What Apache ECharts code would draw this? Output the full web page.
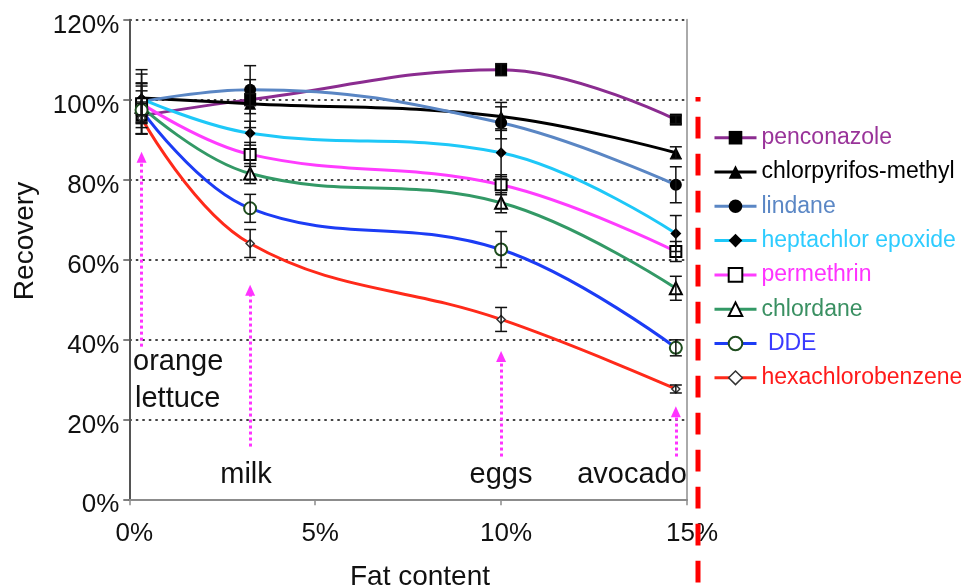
<!DOCTYPE html>
<html>
<head>
<meta charset="utf-8">
<script src="https://cdn.jsdelivr.net/npm/echarts@6/dist/echarts.min.js"></script>
<style>
html,body{margin:0;padding:0;background:#fff;}
#c{width:961px;height:588px;}
</style>
</head>
<body>
<div id="c"></div>
<script>
// ---- data ----
const fatContent = [0.33, 3.25, 10, 14.7];           // % fat: orange/lettuce, milk, eggs, avocado
const compounds = ['penconazole','chlorpyrifos-methyl','lindane','heptachlor epoxide','permethrin','chlordane','DDE','hexachlorobenzene'];
const penconazole        = [96.0, 100.0, 107.5, 95.0];
const chlorpyrifosMethyl = [100.4, 99.0, 95.8, 86.7];
const lindane            = [99.5, 102.5, 94.2, 78.7];
const heptachlorEpoxide  = [100.2, 91.6, 86.7, 66.5];
const permethrin         = [99.0, 86.3, 78.7, 62.0];
const chlordane          = [98.2, 81.5, 74.2, 52.8];
const dde                = [97.4, 72.8, 62.5, 37.9];
const hexachlorobenzene  = [95.4, 64.0, 45.0, 27.6];
// error (±) per point
const errPenconazole  = [3, 1.5, 1.5, 1];
const errChlorpyrifos = [6, 6, 3.5, 1.5];
const errLindane      = [8, 6, 4, 4.5];
const errHeptachlor   = [4, 3, 6, 4.5];
const errPermethrin   = [5, 3, 2.5, 2.5];
const errChlordane    = [4, 2.5, 2.5, 3];
const errDDE          = [6, 3.5, 4.5, 2];
const errHCB          = [4, 3.5, 3, 1];
const xTicks = [0, 5, 10, 15];
const yTicks = [0, 20, 40, 60, 80, 100, 120];
// annotation arrows: [fat %, from recovery %, to recovery %]
const arrowX    = [0.33, 3.25, 10, 14.7];
const arrowFrom = [38.2, 13.2, 10.7, 10.7];
const arrowTo   = [85.6, 52.3, 35.7, 21.9];

const values = [penconazole, chlorpyrifosMethyl, lindane, heptachlorEpoxide, permethrin, chlordane, dde, hexachlorobenzene];
const errors = [errPenconazole, errChlorpyrifos, errLindane, errHeptachlor, errPermethrin, errChlordane, errDDE, errHCB];

// ---- styles ----
const FONT = '"Liberation Sans", Arial, sans-serif';
const lineColors = ['#8B2C90', '#000000', '#5A86C4', '#1EC8F8', '#FF3CFF', '#339966', '#1C3CF5', '#FF2A1A'];
const textColors = ['#993399', '#000000', '#5B87C5', '#2ECCFF', '#FF33FF', '#3A9062', '#3A3AFF', '#FF1A1A'];
const symbols = ['rect', 'triangle', 'circle', 'diamond', 'rect', 'triangle', 'circle', 'diamond'];
const symbolSizes = [12, 12, 12, 11, 11, 12, 12, 8];
const fills   = ['#000', '#000', '#000', '#000', '#fff', '#fff', '#fff', '#fff'];
const borders = ['#000', '#000', '#000', '#000', '#000', '#000', '#1E4D1E', '#333'];
const borderW = [0, 0, 0, 0, 2, 2, 2, 1.5];

const series = compounds.map((name, i) => ({
  name: name,
  type: 'line',
  smooth: 0.4,
  data: fatContent.map((x, j) => [x, values[i][j]]),
  symbol: symbols[i],
  symbolSize: symbolSizes[i],
  showAllSymbol: true,
  lineStyle: { color: lineColors[i], width: 3 },
  itemStyle: { color: fills[i], borderColor: borders[i], borderWidth: borderW[i] },
  z: 3
}));

const errData = [];
compounds.forEach((n, i) => {
  fatContent.forEach((x, j) => {
    errData.push([x, values[i][j] - errors[i][j], values[i][j] + errors[i][j]]);
  });
});

series.push({
  name: 'errors',
  type: 'custom',
  data: errData,
  encode: { x: 0, y: [1, 2] },
  z: 4,
  silent: true,
  renderItem: function (params, api) {
    const x = api.value(0);
    const lo = api.coord([x, api.value(1)]);
    const hi = api.coord([x, api.value(2)]);
    const hw = 6;
    const st = { stroke: '#111', lineWidth: 1.5 };
    return {
      type: 'group',
      children: [
        { type: 'line', shape: { x1: lo[0], y1: lo[1], x2: hi[0], y2: hi[1] }, style: st },
        { type: 'line', shape: { x1: lo[0] - hw, y1: lo[1], x2: lo[0] + hw, y2: lo[1] }, style: st },
        { type: 'line', shape: { x1: hi[0] - hw, y1: hi[1], x2: hi[0] + hw, y2: hi[1] }, style: st }
      ]
    };
  }
});

// arrows as markLine on an empty helper series
series.push({
  name: 'arrows',
  type: 'line',
  data: [],
  silent: true,
  markLine: {
    silent: true,
    symbol: ['none', 'triangle'],
    symbolSize: [10, 11],
    label: { show: false },
    lineStyle: { color: '#FF33FF', width: 3, type: [3, 3] },
    emphasis: { disabled: true },
    data: arrowX.map((x, k) => [{ coord: [x, arrowFrom[k]] }, { coord: [x, arrowTo[k]] }])
  }
});

const chart = echarts.init(document.getElementById('c'));
chart.setOption({
  animation: false,
  backgroundColor: '#fff',
  grid: { left: 129.3, right: 274, top: 19.7, bottom: 88.7, containLabel: false },
  xAxis: {
    type: 'value',
    min: xTicks[0], max: xTicks[xTicks.length - 1], interval: 5,
    axisLine: { show: true, lineStyle: { color: '#8c8c8c', width: 2 } },
    axisTick: { show: true, length: 6, lineStyle: { color: '#8c8c8c', width: 1.5 } },
    splitLine: { show: false },
    axisLabel: { formatter: '{value}%', fontFamily: FONT, fontSize: 26, color: '#111', margin: 22, padding: [0, 0, 0, 10] }
  },
  yAxis: [{
    type: 'value',
    min: yTicks[0], max: yTicks[yTicks.length - 1], interval: 20,
    axisLine: { show: true, lineStyle: { color: '#555', width: 2 } },
    axisTick: { show: true, length: 6, lineStyle: { color: '#555', width: 1.5 } },
    splitLine: { show: true, lineStyle: { color: '#444', width: 2, type: [2.5, 4] } },
    axisLabel: { formatter: '{value}%', fontFamily: FONT, fontSize: 26, color: '#111', margin: 10, verticalAlign: 'top', lineHeight: 12 }
  }, {
    type: 'value', position: 'right',
    min: yTicks[0], max: yTicks[yTicks.length - 1], interval: 20,
    axisLine: { show: true, lineStyle: { color: '#aaa', width: 2 } },
    axisTick: { show: false }, axisLabel: { show: false }, splitLine: { show: false }
  }],
  legend: {
    orient: 'vertical',
    left: 708, top: 120.7,
    itemWidth: 42, itemHeight: 17, itemGap: 10.3,
    lineStyle: { width: 3 },
    itemStyle: { borderWidth: 'inherit' },
    textStyle: { fontFamily: FONT, fontSize: 23, lineHeight: 24 },
    data: compounds.map((n, i) => ({ name: n, textStyle: { color: textColors[i] } })),
    formatter: function (n) { return n === 'DDE' ? ' DDE' : n; },
    selectedMode: false
  },
  series: series,
  graphic: [
    { type: 'text', x: 25, y: 241, rotation: Math.PI / 2,
      style: { text: 'Recovery', font: '28px ' + FONT, fill: '#111', textAlign: 'center', textVerticalAlign: 'middle' } },
    { type: 'text', x: 420, y: 577,
      style: { text: 'Fat content', font: '28px ' + FONT, fill: '#111', textAlign: 'center', textVerticalAlign: 'middle' } },
    { type: 'text', x: 133, y: 362,
      style: { text: 'orange', font: '29px ' + FONT, fill: '#111', textAlign: 'left', textVerticalAlign: 'middle' } },
    { type: 'text', x: 135, y: 399,
      style: { text: 'lettuce', font: '29px ' + FONT, fill: '#111', textAlign: 'left', textVerticalAlign: 'middle' } },
    { type: 'text', x: 246, y: 475,
      style: { text: 'milk', font: '29px ' + FONT, fill: '#111', textAlign: 'center', textVerticalAlign: 'middle' } },
    { type: 'text', x: 501, y: 475,
      style: { text: 'eggs', font: '29px ' + FONT, fill: '#111', textAlign: 'center', textVerticalAlign: 'middle' } },
    { type: 'text', x: 632, y: 475,
      style: { text: 'avocado', font: '29px ' + FONT, fill: '#111', textAlign: 'center', textVerticalAlign: 'middle' } },
    { type: 'line', shape: { x1: 698, y1: 97, x2: 698, y2: 588 },
      style: { stroke: '#FF0000', lineWidth: 5, lineDash: [21.7, 15.3], lineDashOffset: 17.3 }, z: 10 }
  ]
});
</script>
</body>
</html>
